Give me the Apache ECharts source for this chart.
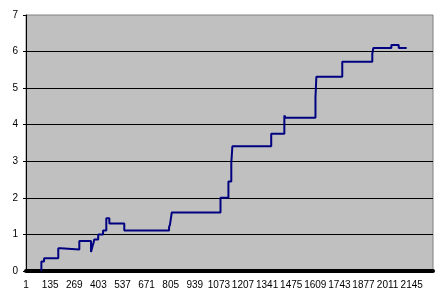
<!DOCTYPE html>
<html>
<head>
<meta charset="utf-8">
<script src="https://cdn.jsdelivr.net/npm/echarts@6/dist/echarts.min.js"></script>
<style>
  html, body { margin: 0; padding: 0; background: #ffffff; }
  #chart { width: 444px; height: 300px; }
</style>
</head>
<body>
<div id="chart"></div>
<script>
// Number of categories on the x axis (rows in the data table)
const categoryCount = 2263;
// Label step between shown category labels
const labelStep = 134;
// Step-change points: category index where a new value begins, and that value
const changeIndex = [85, 85, 100, 179, 192, 296, 361, 370, 376, 379, 401, 428, 446, 463, 546, 795, 800, 810, 1081, 1125, 1141, 1147, 1363, 1436, 1443, 1609, 1614, 1758, 1925, 1931, 2031, 2072, 2116];
const changeValue = [0, 0.26, 0.35, 0.62, 0.59, 0.82, 0.52, 0.69, 0.79, 0.86, 1.00, 1.11, 1.44, 1.30, 1.11, 1.20, 1.27, 1.60, 2.00, 2.45, 2.95, 3.41, 3.75, 4.25, 4.19, 4.75, 5.31, 5.72, 5.94, 6.10, 6.18, 6.10, 6.10];
// Y axis range
const yMin = 0, yMax = 7, yStep = 1;

const categories = [];
for (let i = 0; i < categoryCount; i++) categories.push(String(i + 1));
const seriesData = changeIndex.map((x, k) => [x, changeValue[k]]);

const chart = echarts.init(document.getElementById('chart'), null, { renderer: 'canvas' });
const font = { fontFamily: 'Liberation Sans, Arial, sans-serif', fontSize: 10, color: '#000' };
chart.setOption({
  animation: false,
  backgroundColor: '#ffffff',
  grid: {
    left: 26, right: 11, top: 15, bottom: 29,
    show: true, backgroundColor: '#C0C0C0', borderColor: '#808080', borderWidth: 1
  },
  xAxis: {
    type: 'category',
    data: categories,
    boundaryGap: true,
    offset: 2,
    axisLine: { show: true, lineStyle: { color: '#000', width: 4 } },
    axisTick: { show: false },
    axisLabel: Object.assign({
      interval: function (index) { return index % labelStep === 0; },
      margin: 7
    }, font),
    splitLine: { show: false }
  },
  yAxis: {
    type: 'value',
    min: yMin, max: yMax, interval: yStep,
    axisLine: { show: true, lineStyle: { color: '#000', width: 1 } },
    axisTick: { show: true, length: 3, lineStyle: { color: '#000' } },
    axisLabel: Object.assign({ margin: 8 }, font),
    splitLine: { show: true, showMaxLine: false, lineStyle: { color: '#000', width: 1 } }
  },
  series: [{
    type: 'line',
    step: 'end',
    data: seriesData,
    symbol: 'none',
    lineStyle: { color: '#000080', width: 2 },
    clip: true
  }]
});
</script>
</body>
</html>
